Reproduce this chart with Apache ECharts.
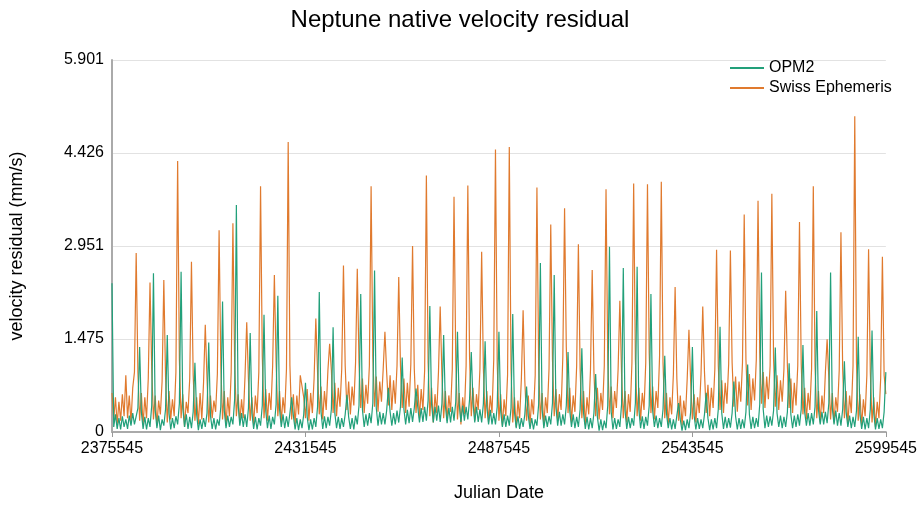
<!DOCTYPE html>
<html>
<head>
<meta charset="utf-8">
<title>Neptune native velocity residual</title>
<script src="https://cdn.jsdelivr.net/npm/echarts@6/dist/echarts.min.js"></script>
<style>
  html, body { margin: 0; padding: 0; background: #fff; }
  #chart { width: 920px; height: 520px; }
</style>
</head>
<body>
<div id="chart"></div>
<script>
// Julian date sampling: one value every 500 days from 2375545 to 2599545
const startJD = 2375545;
const stepDays = 500;

const xTicks = [2375545, 2431545, 2487545, 2543545, 2599545];
const yTickLabels = ["0", "1.475", "2.951", "4.426", "5.901"];

// Swiss Ephemeris residual (mm/s), each row starts at a spike
const swissValues = [
  0.62, 0.20, 0.55, 0.12, 0.48, 0.18, 0.60, 0.25, 0.90, 0.22, 0.58, 0.15, 0.70, 0.95,
  2.84, 0.95, 0.18, 0.62, 0.12, 0.55, 0.22, 0.85,
  2.37, 1.00, 0.20, 0.58, 0.10, 0.50, 0.28, 0.80,
  2.41, 0.88, 0.15, 0.65, 0.20, 0.52, 0.25, 0.95,
  4.30, 1.15, 0.22, 0.60, 0.08, 0.48, 0.30, 0.85,
  2.70, 0.90, 0.18, 0.55, 0.12, 0.62, 0.20, 0.78,
  1.70, 0.85, 0.15, 0.58, 0.22, 0.50, 0.32, 0.92,
  3.20, 1.05, 0.20, 0.65, 0.10, 0.55, 0.25, 0.95,
  3.31, 1.10, 0.25, 0.60, 0.15, 0.52, 0.22, 0.88,
  1.74, 0.82, 0.18, 0.55, 0.12, 0.58, 0.30, 0.95,
  3.90, 1.20, 0.22, 0.68, 0.18, 0.62, 0.35, 1.05,
  2.49, 1.10, 0.25, 0.65, 0.15, 0.55, 0.30, 1.00,
  4.60, 1.05, 0.20, 0.60, 0.12, 0.58, 0.28, 0.90,
  0.88, 0.55, 0.22, 0.68, 0.18, 0.62, 0.30, 0.85,
  1.80, 0.95, 0.28, 0.72, 0.20, 0.65, 0.35, 0.98,
  1.40, 0.98, 0.30, 0.78, 0.25, 0.70, 0.40, 1.00,
  2.64, 1.05, 0.35, 0.80, 0.28, 0.72, 0.42, 1.10,
  2.59, 1.10, 0.38, 0.85, 0.30, 0.75, 0.45, 1.05,
  3.90, 1.20, 0.40, 0.88, 0.32, 0.80, 0.48, 1.00,
  1.59, 0.95, 0.42, 0.90, 0.35, 0.82, 0.45, 1.05,
  2.46, 1.05, 0.38, 0.85, 0.30, 0.78, 0.40, 1.08,
  2.95, 1.00, 0.30, 0.75, 0.22, 0.68, 0.35, 0.98,
  4.07, 1.10, 0.25, 0.70, 0.15, 0.60, 0.30, 0.95,
  1.99, 0.90, 0.22, 0.65, 0.18, 0.58, 0.32, 1.00,
  3.73, 1.15, 0.20, 0.62, 0.12, 0.55, 0.28, 1.05,
  3.91, 1.20, 0.25, 0.70, 0.18, 0.60, 0.35, 1.00,
  2.86, 1.00, 0.22, 0.65, 0.15, 0.58, 0.30, 1.15,
  4.48, 1.10, 0.18, 0.60, 0.10, 0.52, 0.25, 0.90,
  4.52, 1.00, 0.15, 0.55, 0.08, 0.50, 0.22, 0.85,
  1.93, 0.80, 0.18, 0.58, 0.12, 0.52, 0.28, 0.90,
  3.88, 1.05, 0.20, 0.62, 0.10, 0.55, 0.30, 1.00,
  3.29, 1.15, 0.25, 0.68, 0.18, 0.60, 0.35, 1.20,
  3.55, 1.35, 0.30, 0.70, 0.15, 0.58, 0.32, 1.05,
  2.98, 1.00, 0.22, 0.65, 0.12, 0.55, 0.28, 0.98,
  2.57, 0.95, 0.25, 0.70, 0.20, 0.62, 0.35, 1.05,
  3.85, 1.15, 0.28, 0.72, 0.22, 0.65, 0.38, 1.00,
  2.08, 0.92, 0.22, 0.65, 0.15, 0.60, 0.32, 1.10,
  3.94, 1.15, 0.25, 0.70, 0.18, 0.62, 0.35, 1.10,
  3.93, 1.25, 0.30, 0.72, 0.20, 0.65, 0.38, 1.20,
  3.97, 1.10, 0.22, 0.62, 0.12, 0.55, 0.28, 0.92,
  2.30, 0.85, 0.18, 0.58, 0.10, 0.50, 0.25, 0.85,
  1.62, 0.80, 0.20, 0.60, 0.15, 0.55, 0.30, 0.92,
  1.99, 0.95, 0.30, 0.75, 0.25, 0.70, 0.38, 1.00,
  2.89, 1.05, 0.35, 0.82, 0.30, 0.78, 0.45, 1.08,
  2.88, 1.10, 0.40, 0.88, 0.32, 0.80, 0.48, 1.10,
  3.45, 1.15, 0.42, 0.92, 0.35, 0.85, 0.50, 1.15,
  3.67, 1.25, 0.45, 0.95, 0.38, 0.88, 0.52, 1.05,
  3.78, 1.15, 0.40, 0.90, 0.35, 0.82, 0.48, 1.00,
  2.24, 1.05, 0.38, 0.85, 0.30, 0.78, 0.42, 1.05,
  3.33, 1.08, 0.28, 0.70, 0.20, 0.62, 0.35, 1.00,
  3.90, 1.05, 0.22, 0.65, 0.15, 0.58, 0.30, 0.95,
  1.47, 0.85, 0.20, 0.62, 0.15, 0.55, 0.32, 0.98,
  3.17, 1.00, 0.22, 0.65, 0.12, 0.58, 0.30, 1.05,
  5.01, 1.10, 0.18, 0.60, 0.10, 0.52, 0.25, 0.90,
  2.90, 0.95, 0.15, 0.55, 0.08, 0.48, 0.22, 0.85,
  2.78, 0.90, 0.60
];

// OPM2 residual (mm/s), same rows (spike is the third value)
const opm2Values = [
  2.36, 0.08, 0.28, 0.05, 0.22, 0.04, 0.25, 0.08, 0.20, 0.05, 0.26, 0.10, 0.30, 0.12,
  0.10, 0.38, 1.35, 0.32, 0.05, 0.24, 0.04, 0.22,
  0.08, 0.42, 2.52, 0.35, 0.06, 0.26, 0.03, 0.20,
  0.10, 0.36, 1.54, 0.30, 0.04, 0.22, 0.06, 0.25,
  0.12, 0.45, 2.54, 0.38, 0.08, 0.28, 0.05, 0.24,
  0.06, 0.32, 1.10, 0.28, 0.03, 0.20, 0.05, 0.22,
  0.08, 0.30, 1.42, 0.26, 0.05, 0.22, 0.04, 0.20,
  0.10, 0.40, 2.07, 0.34, 0.06, 0.26, 0.08, 0.24,
  0.12, 0.52, 3.60, 0.45, 0.10, 0.30, 0.08, 0.28,
  0.08, 0.38, 1.57, 0.30, 0.05, 0.24, 0.04, 0.22,
  0.10, 0.42, 1.86, 0.34, 0.06, 0.26, 0.05, 0.24,
  0.12, 0.44, 2.16, 0.36, 0.08, 0.28, 0.06, 0.25,
  0.08, 0.30, 0.55, 0.26, 0.04, 0.22, 0.03, 0.20,
  0.06, 0.28, 0.78, 0.24, 0.03, 0.20, 0.04, 0.22,
  0.08, 0.40, 2.22, 0.32, 0.05, 0.25, 0.06, 0.24,
  0.10, 0.36, 1.66, 0.30, 0.06, 0.24, 0.05, 0.22,
  0.08, 0.28, 0.59, 0.24, 0.05, 0.22, 0.04, 0.26,
  0.12, 0.42, 2.19, 0.35, 0.08, 0.28, 0.10, 0.30,
  0.14, 0.46, 2.56, 0.38, 0.10, 0.32, 0.12, 0.30,
  0.12, 0.34, 0.70, 0.32, 0.10, 0.30, 0.12, 0.34,
  0.15, 0.40, 1.18, 0.36, 0.12, 0.35, 0.14, 0.38,
  0.16, 0.38, 0.69, 0.40, 0.15, 0.38, 0.16, 0.40,
  0.18, 0.50, 2.00, 0.45, 0.15, 0.40, 0.18, 0.42,
  0.16, 0.45, 1.54, 0.42, 0.14, 0.38, 0.15, 0.40,
  0.18, 0.48, 1.59, 0.45, 0.16, 0.42, 0.18, 0.40,
  0.20, 0.52, 1.27, 0.46, 0.15, 0.40, 0.16, 0.36,
  0.15, 0.45, 1.44, 0.40, 0.12, 0.35, 0.12, 0.30,
  0.12, 0.40, 1.59, 0.34, 0.08, 0.28, 0.08, 0.26,
  0.10, 0.38, 1.87, 0.32, 0.06, 0.25, 0.05, 0.22,
  0.08, 0.28, 0.72, 0.26, 0.05, 0.22, 0.04, 0.20,
  0.10, 0.44, 2.68, 0.36, 0.06, 0.26, 0.08, 0.25,
  0.12, 0.46, 2.49, 0.40, 0.10, 0.32, 0.10, 0.28,
  0.12, 0.42, 1.27, 0.34, 0.08, 0.28, 0.06, 0.24,
  0.08, 0.36, 1.33, 0.30, 0.05, 0.24, 0.04, 0.22,
  0.06, 0.30, 0.92, 0.24, 0.02, 0.20, 0.03, 0.18,
  0.06, 0.42, 2.94, 0.32, 0.04, 0.22, 0.05, 0.20,
  0.08, 0.44, 2.60, 0.34, 0.05, 0.24, 0.06, 0.22,
  0.10, 0.46, 2.62, 0.36, 0.06, 0.25, 0.05, 0.24,
  0.10, 0.42, 2.19, 0.34, 0.08, 0.26, 0.06, 0.22,
  0.08, 0.36, 1.21, 0.30, 0.06, 0.22, 0.04, 0.20,
  0.05, 0.26, 0.46, 0.20, 0.02, 0.18, 0.03, 0.20,
  0.06, 0.32, 1.35, 0.26, 0.04, 0.22, 0.05, 0.20,
  0.06, 0.28, 0.62, 0.22, 0.03, 0.20, 0.04, 0.22,
  0.06, 0.36, 1.67, 0.30, 0.05, 0.24, 0.06, 0.22,
  0.07, 0.30, 0.80, 0.25, 0.04, 0.22, 0.05, 0.20,
  0.06, 0.32, 1.07, 0.28, 0.05, 0.24, 0.06, 0.22,
  0.08, 0.44, 2.53, 0.36, 0.06, 0.26, 0.08, 0.25,
  0.10, 0.34, 1.34, 0.30, 0.08, 0.26, 0.06, 0.24,
  0.08, 0.32, 1.09, 0.28, 0.06, 0.26, 0.08, 0.28,
  0.10, 0.36, 1.38, 0.32, 0.10, 0.30, 0.10, 0.30,
  0.12, 0.40, 1.92, 0.35, 0.12, 0.32, 0.12, 0.32,
  0.14, 0.46, 2.53, 0.38, 0.12, 0.34, 0.10, 0.30,
  0.10, 0.36, 1.12, 0.32, 0.08, 0.26, 0.06, 0.24,
  0.08, 0.34, 1.51, 0.28, 0.05, 0.24, 0.04, 0.22,
  0.06, 0.36, 1.61, 0.30, 0.04, 0.22, 0.05, 0.20,
  0.06, 0.32, 0.95
];

const toPairs = (values) => values.map((v, i) => [startJD + i * stepDays, v]);

const chart = echarts.init(document.getElementById("chart"));
const font = "'Liberation Sans', Arial, sans-serif";

chart.setOption({
  animation: false,
  textStyle: { fontFamily: font },
  title: {
    text: "Neptune native velocity residual",
    left: "center",
    top: 3,
    textStyle: { fontSize: 24, fontWeight: "normal", color: "#000", fontFamily: font }
  },
  legend: {
    data: ["OPM2", "Swiss Ephemeris"],
    orient: "vertical",
    left: 725,
    top: 55,
    icon: "rect",
    itemWidth: 34,
    itemHeight: 2,
    itemGap: 4,
    textStyle: { fontSize: 16, color: "#000", fontFamily: font, lineHeight: 16 }
  },
  grid: { left: 112, right: 32, top: 60, bottom: 88 },
  xAxis: {
    type: "value",
    min: xTicks[0],
    max: xTicks[xTicks.length - 1],
    interval: xTicks[1] - xTicks[0],
    name: "Julian Date",
    nameLocation: "middle",
    nameGap: 52,
    nameTextStyle: { fontSize: 18, color: "#000", fontFamily: font },
    axisLine: { lineStyle: { color: "#aaa", width: 2 } },
    axisTick: { show: true, length: 5, lineStyle: { color: "#999" } },
    axisLabel: { fontSize: 16, color: "#000", margin: 9, formatter: (v) => String(v) },
    splitLine: { show: false }
  },
  yAxis: {
    type: "value",
    min: 0,
    max: 5.901,
    interval: 5.901 / 4,
    name: "velocity residual (mm/s)",
    nameLocation: "middle",
    nameGap: 86,
    nameTextStyle: { fontSize: 18, color: "#000", fontFamily: font },
    axisLine: { show: true, lineStyle: { color: "#aaa", width: 2 } },
    axisTick: { show: false },
    axisLabel: { fontSize: 16, color: "#000", margin: 8, formatter: (v, i) => yTickLabels[i] },
    splitLine: { lineStyle: { color: "#e2e2e2" } }
  },
  series: [
    {
      name: "Swiss Ephemeris",
      type: "line",
      data: toPairs(swissValues),
      showSymbol: false,
      symbol: "none",
      color: "#e07a2e",
      lineStyle: { width: 1.2, color: "#e07a2e" }
    },
    {
      name: "OPM2",
      type: "line",
      data: toPairs(opm2Values),
      showSymbol: false,
      symbol: "none",
      color: "#22a07a",
      lineStyle: { width: 1.2, color: "#22a07a" }
    }
  ]
});
</script>
</body>
</html>
